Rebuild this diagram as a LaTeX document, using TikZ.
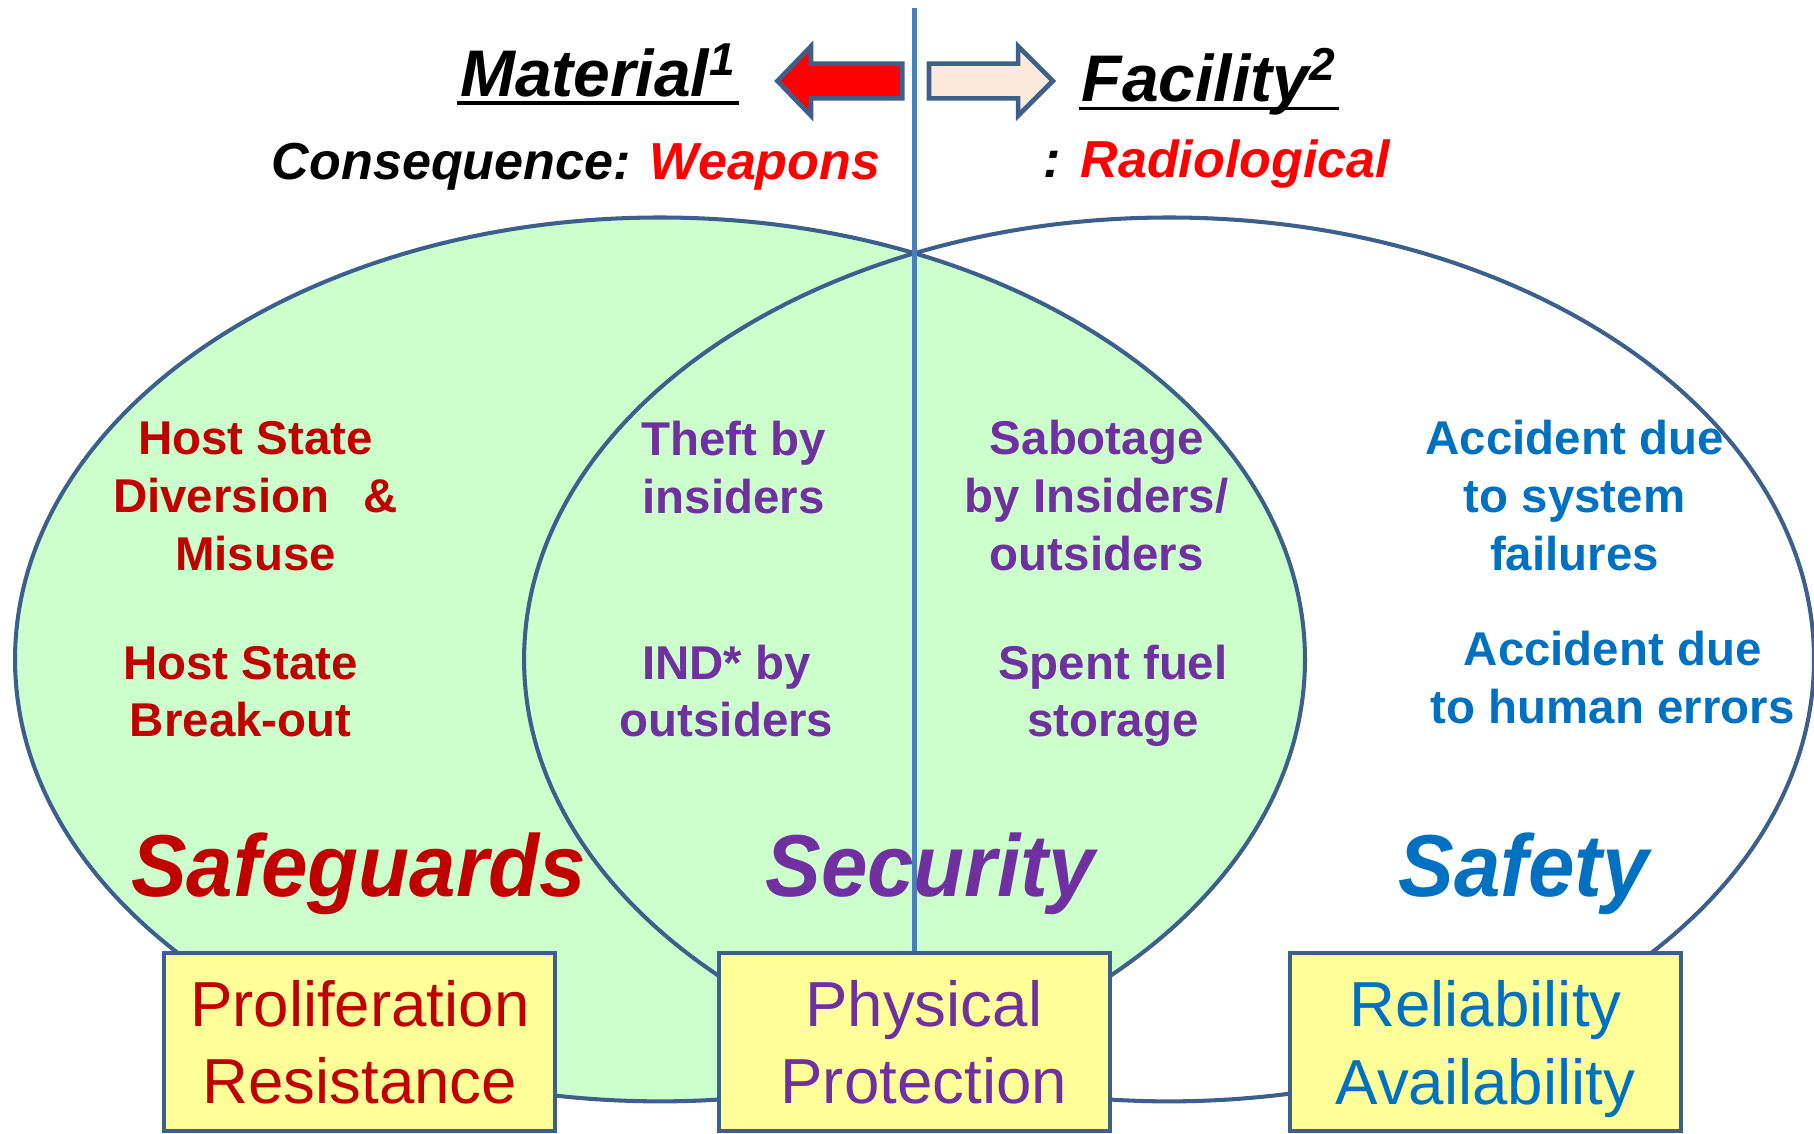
\documentclass[tikz,border=0pt]{standalone}
\usepackage{fontspec}
\setmainfont{Liberation Sans}
\newfontfamily\headfont[FakeStretch=0.95]{Liberation Sans}
\definecolor{sgred}{HTML}{C00000}
\definecolor{scpurple}{HTML}{7030A0}
\definecolor{sfblue}{HTML}{0070C0}
\definecolor{lensgreen}{HTML}{CCFFCC}
\definecolor{rimblue}{HTML}{3C5F8C}
\definecolor{axisblue}{HTML}{4A7EBB}
\definecolor{boxyellow}{HTML}{FFFF99}
\definecolor{peach}{HTML}{FDE9D9}
\begin{document}
\begin{tikzpicture}[x=0.5pt,y=-0.5pt,
	rim/.style={draw=rimblue,line width=1.75pt},
	heading/.style={font=\bfseries\itshape\fontsize{28.5}{30}\selectfont,anchor=base,inner xsep=1pt,inner ysep=0pt},
	conseq/.style={font=\bfseries\itshape\fontsize{22.5}{24}\selectfont,anchor=base,inner sep=0pt},
	uline/.style={line width=1.45pt},
	item/.style={font=\bfseries\fontsize{20.5}{25}\selectfont,align=center,anchor=base,inner sep=0pt},
	pillar/.style={font=\headfont\bfseries\itshape\fontsize{38}{40}\selectfont,anchor=base,inner sep=0pt},
	pbox/.style={rim,fill=boxyellow,minimum width=169pt,minimum height=77pt,inner sep=0pt,align=center,font=\fontsize{27.5}{33.5}\selectfont}]
	\useasboundingbox (0,0) rectangle (1568,980);
	% the two overlapping ellipses
	\fill[lensgreen] (570.5,570) ellipse (557.5 and 382);
	\draw[rim] (1010.5,570) ellipse (557.5 and 382);
	\draw[rim] (570.5,570) ellipse (557.5 and 382);
	% boxes at the bottom
	\node[pbox,text=sgred] (prbox) at (311,901) {Proliferation\\Resistance};
	\node[pbox,text=scpurple] (ppbox) at (790.5,901) {\hspace*{8pt}Physical\\\hspace*{8pt}Protection};
	\node[pbox,text=sfblue] (rabox) at (1284,901) {Reliability\\\smash{Availability}};
	% dividing line
	\coordinate (divtop) at (790.5,7);
	\draw[axisblue,line width=1.9pt] (divtop) -- (ppbox.north);
	% arrows
	\filldraw[fill=red,draw=rimblue,line width=2pt] (780,55)--(701,55)--(701,40)--(672,70)--(701,100)--(701,85)--(780,85)--cycle;
	\filldraw[fill=peach,draw=rimblue,line width=2pt] (803,55)--(880,55)--(880,40)--(910,70)--(880,100)--(880,85)--(803,85)--cycle;
	% headings
	\node[heading] (mat) at (517,83) {Material\textsuperscript{1}};
	\draw[uline] ([yshift=-3pt]mat.base west) -- ([yshift=-3pt]mat.base east);
	\node[heading] (fac) at (1045,88) {Facility\textsuperscript{2}};
	\draw[uline] ([yshift=-3pt]fac.base west) -- ([yshift=-3pt]fac.base east);
	\node[conseq] (weap) at (498,155.5) {Consequence: \textcolor{red}{Weapons}};
	\node[conseq] (radio) at (1052,153) {: \textcolor{red}{Radiological}};
	% threats
	\node[item,text=sgred] (divert) at (221,493) {Host State\\Diversion\hspace{15pt}\&\\Misuse};
	\node[item,text=sgred] (breakout) at (208,637) {Host State\\Break-out};
	\node[item,text=scpurple] (theft) at (634,444) {Theft by\\insiders};
	\node[item,text=scpurple] (ind) at (628,637) {IND* by\\outsiders};
	\node[item,text=scpurple] (sabotage) at (948,493) {Sabotage\\by Insiders/\\outsiders};
	\node[item,text=scpurple] (spent) at (962,637) {Spent fuel\\storage};
	\node[item,text=sfblue] (sysfail) at (1361,493) {Accident due\\to system\\failures};
	\node[item,text=sfblue] (human) at (1394,625) {Accident due\\to human errors};
	% the three S
	\node[pillar,text=sgred] (safeguards) at (310,775) {Safeguards};
	\node[pillar,text=scpurple] (security) at (804,775) {Security};
	\node[pillar,text=sfblue] (safety) at (1317,775) {Safety};
\end{tikzpicture}
\end{document}
